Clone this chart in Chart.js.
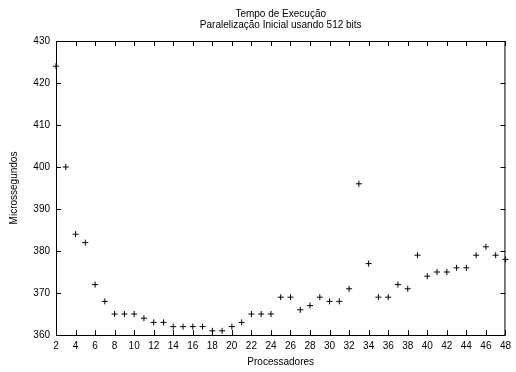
<!DOCTYPE html>
<html lang="pt-BR">
<head>
<meta charset="UTF-8">
<title>Tempo de Execução</title>
<style>
    html, body {
        margin: 0;
        padding: 0;
        background: #fff;
    }
</style>
</head>
<body>
<canvas id="grafico" width="516" height="372"></canvas>

<script src="https://cdn.jsdelivr.net/npm/chart.js"></script>
<script>
    // dados
    const processadores = [2, 3, 4, 5, 6, 7, 8, 9, 10, 11, 12, 13, 14, 15, 16, 17, 18, 19, 20, 21, 22, 23, 24, 25,
        26, 27, 28, 29, 30, 31, 32, 33, 34, 35, 36, 37, 38, 39, 40, 41, 42, 43, 44, 45, 46, 47, 48];
    const microssegundos = [424, 400, 384, 382, 372, 368, 365, 365, 365, 364, 363, 363, 362, 362, 362, 362, 361, 361,
        362, 363, 365, 365, 365, 369, 369, 366, 367, 369, 368, 368, 371, 396, 377, 369, 369, 372, 371, 379, 374, 375,
        375, 376, 376, 379, 381, 379, 378];
    const ticksX = [2, 4, 6, 8, 10, 12, 14, 16, 18, 20, 22, 24, 26, 28, 30, 32, 34, 36, 38, 40, 42, 44, 46, 48];
    const ticksY = [360, 370, 380, 390, 400, 410, 420, 430];
    const titulo = ['Tempo de Execução', 'Paralelização Inicial usando 512 bits'];

    const fonte = '"Liberation Sans", Arial, sans-serif';

    // moldura estilo gnuplot: caixa fechada e ticks para dentro nos quatro lados
    const moldura = {
        id: 'moldura',
        beforeDatasetsDraw(chart) {
            const { ctx, chartArea: a, scales: { x, y } } = chart;
            const t = 5;
            ctx.save();
            ctx.strokeStyle = '#000';
            ctx.lineWidth = 1;
            ctx.beginPath();
            x.ticks.forEach(tk => {
                const px = Math.round(x.getPixelForValue(tk.value)) + 0.5;
                ctx.moveTo(px, a.bottom);
                ctx.lineTo(px, a.bottom - t);
                ctx.moveTo(px, a.top);
                ctx.lineTo(px, a.top + t);
            });
            y.ticks.forEach(tk => {
                const py = Math.round(y.getPixelForValue(tk.value)) + 0.5;
                ctx.moveTo(a.left, py);
                ctx.lineTo(a.left + t, py);
                ctx.moveTo(a.right, py);
                ctx.lineTo(a.right - t, py);
            });
            ctx.stroke();
            ctx.strokeRect(a.left + 0.5, a.top + 0.5, a.right - a.left - 1, a.bottom - a.top);

            // título centrado sobre a área do gráfico
            ctx.fillStyle = '#000';
            ctx.font = '10px ' + fonte;
            ctx.textAlign = 'center';
            ctx.textBaseline = 'alphabetic';
            const cx = (a.left + a.right) / 2;
            ctx.fillText(titulo[0], cx, 17);
            ctx.fillText(titulo[1], cx, 28);
            ctx.restore();
        }
    };

    new Chart(document.getElementById('grafico'), {
        type: 'scatter',
        data: {
            datasets: [{
                data: processadores.map((p, i) => ({ x: p, y: microssegundos[i] })),
                pointStyle: 'cross',
                pointRadius: 3,
                pointBorderWidth: 1,
                borderColor: '#000',
                backgroundColor: '#000',
                clip: false
            }]
        },
        options: {
            responsive: false,
            devicePixelRatio: 1,
            animation: false,
            layout: { padding: { top: 41, right: 7, left: 0, bottom: 0 } },
            plugins: {
                legend: { display: false },
                tooltip: { enabled: false }
            },
            scales: {
                x: {
                    type: 'linear',
                    min: 2,
                    max: 48,
                    afterBuildTicks: s => { s.ticks = ticksX.map(v => ({ value: v })); },
                    afterFit: s => { s.height = 37; },
                    grid: { display: false, drawTicks: false },
                    border: { display: false },
                    ticks: { color: '#000', font: { family: fonte, size: 10 }, padding: 5, maxRotation: 0, autoSkip: false },
                    title: {
                        display: true,
                        text: 'Processadores',
                        color: '#000',
                        font: { family: fonte, size: 10 },
                        padding: { top: 0, bottom: 4 }
                    }
                },
                y: {
                    min: 360,
                    max: 430,
                    afterBuildTicks: s => { s.ticks = ticksY.map(v => ({ value: v })); },
                    afterFit: s => { s.width = 56; },
                    grid: { display: false, drawTicks: false },
                    border: { display: false },
                    ticks: { color: '#000', font: { family: fonte, size: 10 }, padding: 6 },
                    title: {
                        display: true,
                        text: 'Microssegundos',
                        color: '#000',
                        font: { family: fonte, size: 10 },
                        padding: { top: 8, bottom: 0 }
                    }
                }
            }
        },
        plugins: [moldura]
    });
</script>
</body>
</html>
